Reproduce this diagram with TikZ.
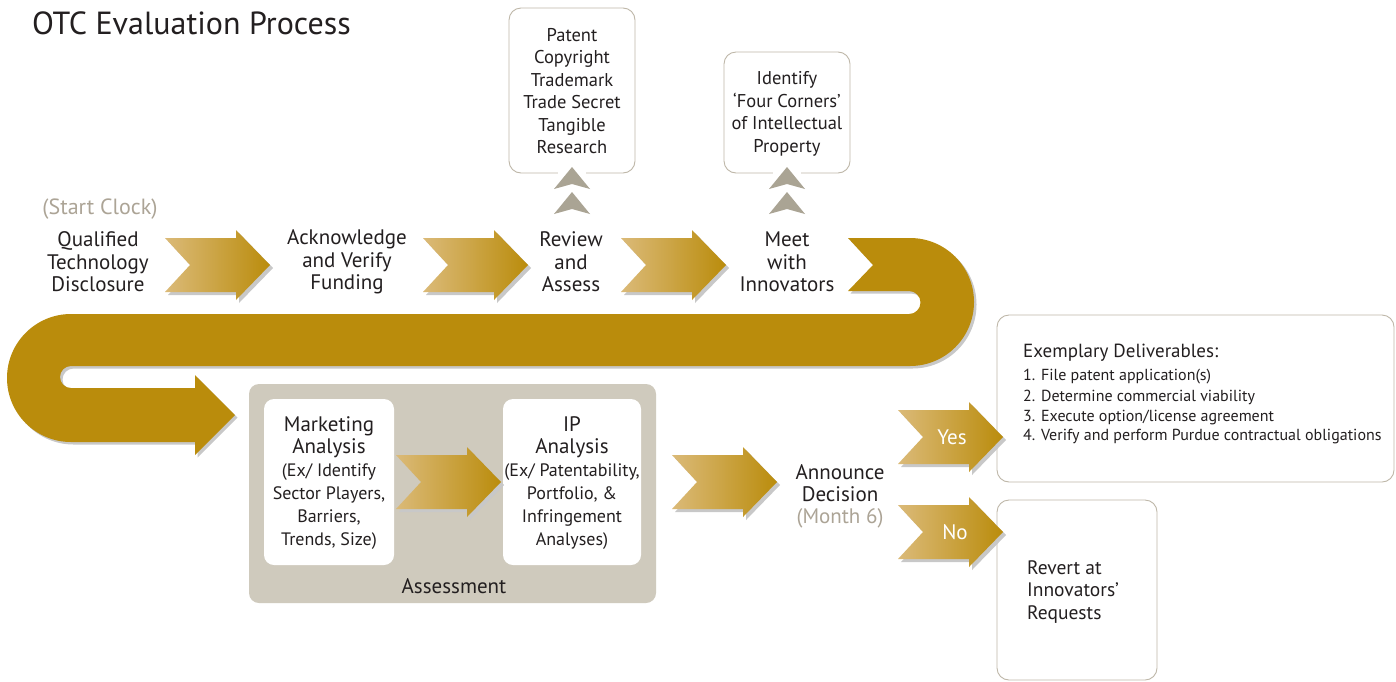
\documentclass[tikz,border=0pt]{standalone}
\usepackage{fontspec}
\setmainfont{PT Sans}
\definecolor{gold}{RGB}{186,140,12}
\definecolor{goldlight}{RGB}{219,186,120}
\definecolor{shadowgray}{RGB}{200,200,200}
\definecolor{txt}{RGB}{35,31,32}
\definecolor{graytxt}{RGB}{172,164,150}
\definecolor{chevgray}{RGB}{170,164,148}
\definecolor{assessbg}{RGB}{207,202,189}
\definecolor{boxline}{RGB}{190,183,168}
\newcommand\chevpath[2]{(#1,{#2-27}) -- ({#1+71},{#2-27}) -- ({#1+71},{#2-35}) -- ({#1+105},#2) -- ({#1+71},{#2+35}) -- ({#1+71},{#2+27}) -- (#1,{#2+27}) -- ({#1+25},#2) -- cycle}
\newcommand\goldchev[2]{\fill[shadowgray, shift={(3,3)}] \chevpath{#1}{#2};
  \shade[left color=goldlight, right color=gold] \chevpath{#1}{#2};}
\newcommand\upchev[2]{\fill[chevgray] (#1,#2) -- ({#1+18},{#2+22}) -- (#1,{#2+17}) -- ({#1-18},{#2+22}) -- cycle;}
\newcommand\bandpath{(848,238) -- (910,238) arc[start angle=90,end angle=-90,radius=64pt] -- (71,366)
  arc[start angle=90,end angle=270,radius=11pt] -- (195,388) -- (195,375) -- (235,415) -- (195,455) -- (195,442) -- (71,442)
  arc[start angle=270,end angle=90,radius=64pt] -- (909,314)
  arc[start angle=-90,end angle=90,radius=11.5pt] -- (848,291) -- (873,265) -- cycle}
\begin{document}
\begin{tikzpicture}[x=1pt,y=-1pt,
  lbl/.style={align=center, text=txt, font=\fontsize{21}{22.5}\selectfont, inner sep=0pt},
  gtxt/.style={text=graytxt, font=\fontsize{21}{22.5}\selectfont, inner sep=0pt},
  small/.style={align=center, text=txt, font=\fontsize{18.5}{22.5}\selectfont, inner sep=0pt},
  paren/.style={align=center, text=txt, font=\fontsize{18}{23}\selectfont, inner sep=0pt},
  outbox/.style={draw=boxline, line width=0.9pt, rounded corners=12pt, fill=white},
  whitebox/.style={fill=white, rounded corners=10pt},
  item/.style={anchor=west, text=txt, font=\fontsize{16}{18}\selectfont, inner sep=0pt}]
\useasboundingbox (0,0) rectangle (1396,681);
\fill[white] (0,0) rectangle (1396,681);

% title
\node[anchor=west, text=txt, font=\fontsize{32}{36}\selectfont, inner sep=0pt] (title) at (32,23) {OTC Evaluation Process};

% top info boxes
\draw[outbox] (509,8) rectangle (635,173);
\node[small] (iptypes) at (572,91) {Patent\\Copyright\\Trademark\\Trade Secret\\Tangible\\Research};
\draw[outbox] (724,52) rectangle (850,173);
\node[small] (corners) at (787,114) {Identify\\‘Four Corners’\\of Intellectual\\Property};
\fill[white] (558,169) rectangle (586,177);
\fill[white] (773,169) rectangle (801,177);
\upchev{572}{167}\upchev{572}{192}
\upchev{787}{167}\upchev{787}{192}

% band with shadow
\fill[shadowgray, shift={(2.5,2.5)}] \bandpath;
\fill[gold] \bandpath;

% top chevrons
\goldchev{165}{265}
\goldchev{423}{265}
\goldchev{621}{265}

% top labels
\node[gtxt, font=\fontsize{22}{24}\selectfont] (start) at (100,209) {(Start Clock)};
\node[lbl] (qtd) at (98,262) {Qualified\\Technology\\Disclosure};
\node[lbl] (ack) at (347,262) {Acknowledge\\and Verify\\Funding};
\node[lbl] (rev) at (571,262) {Review\\and\\Assess};
\node[lbl] (meet) at (787,262) {Meet\\with\\Innovators};

% assessment
\fill[assessbg, rounded corners=10pt] (249,384) rectangle (656,603);
\fill[whitebox] (264,399) rectangle (394,565);
\fill[whitebox] (503,399) rectangle (641,565);
\node[lbl] (mkt) at (329,437) {Marketing\\Analysis};
\node[paren] (mktex) at (329,507) {(Ex/ Identify\\Sector Players,\\Barriers,\\Trends, Size)};
\node[lbl] (ip) at (572,437) {IP\\Analysis};
\node[paren] (ipex) at (572,507) {(Ex/ Patentability,\\Portfolio, \&\\Infringement\\Analyses)};
\node[lbl] (assess) at (454,586) {Assessment};
\goldchev{396}{482}

\goldchev{672}{482}
\node[lbl] (ann) at (840,483) {Announce\\Decision};
\node[gtxt] (month) at (840,518) {(Month 6)};

% outcome boxes
\draw[outbox] (997,315) rectangle (1394,482);
\node[anchor=west, text=txt, font=\fontsize{19}{22}\selectfont, inner sep=0pt] (deltitle) at (1023,353) {Exemplary Deliverables:};
\node[item] (d1) at (1023,377) {1. File patent application(s)};
\node[item] (d2) at (1023,397) {2. Determine commercial viability};
\node[item] (d3) at (1023,417) {3. Execute option/license agreement};
\node[item] (d4) at (1023,436) {4. Verify and perform Purdue contractual obligations};
\draw[outbox] (997,500) rectangle (1157,680);
\node[align=left, anchor=west, text=txt, font=\fontsize{19.5}{22.5}\selectfont, inner sep=0pt] (revert) at (1027,592) {Revert at\\Innovators’\\Requests};

\goldchev{898}{437}
\goldchev{898}{532}
\node[text=white, font=\fontsize{21}{22}\selectfont, inner sep=0pt] (yes) at (952,437) {Yes};
\node[text=white, font=\fontsize{21}{22}\selectfont, inner sep=0pt] (no) at (955,532) {No};
\end{tikzpicture}
\end{document}
